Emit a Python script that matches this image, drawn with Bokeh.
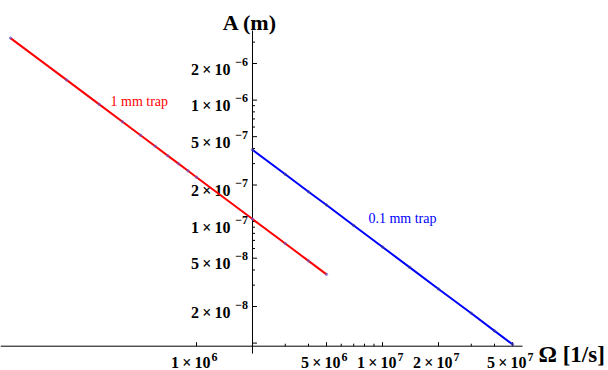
import math
from bokeh.plotting import figure
from bokeh.models import Range1d
from bokeh.core.properties import value
from bokeh.embed import file_html
from bokeh.resources import INLINE

# ---------------- data ----------------
omega_1mm = [1e5, 2e5, 3e5, 4e5, 5e5, 6e5, 7e5, 8e5, 9e5, 1e6, 2e6, 3e6, 4e6, 5e6]
amp_1mm = [3.24e-6, 1.466e-6, 9.22e-7, 6.63e-7, 5.14e-7, 4.17e-7, 3.49e-7,
           3.00e-7, 2.62e-7, 2.32e-7, 1.05e-7, 6.60e-8, 4.75e-8, 3.68e-8]

omega_01mm = [2e6, 3e6, 4e6, 5e6, 7e6, 1e7, 1.4e7, 2e7, 3e7, 4e7, 5e7]
amp_01mm = [3.9e-7, 2.45e-7, 1.76e-7, 1.37e-7, 9.29e-8, 6.18e-8, 4.20e-8,
            2.79e-8, 1.76e-8, 1.26e-8, 9.78e-9]

x_major_ticks = [1e6, 5e6, 1e7, 2e7, 5e7]
x_tick_mantissa = ["1\u2009×\u200910", "5\u2009×\u200910", "1\u2009×\u200910",
                   "2\u2009×\u200910", "5\u2009×\u200910"]
x_tick_exponent = ["6", "6", "7", "7", "7"]
x_minor_ticks = [3e6, 4e6, 6e6, 7e6, 8e6, 9e6, 3e7, 4e7]

y_major_ticks = [2e-6, 1e-6, 5e-7, 2e-7, 1e-7, 5e-8, 2e-8]
y_tick_mantissa = ["2\u2009×\u200910", "1\u2009×\u200910", "5\u2009×\u200910",
                   "2\u2009×\u200910", "1\u2009×\u200910", "5\u2009×\u200910",
                   "2\u2009×\u200910"]
y_tick_exponent = ["−6", "−6", "−7", "−7", "−7", "−8", "−8"]
y_unlabeled_ticks = [1e-8]
y_minor_ticks = [3e-6, 9e-7, 8e-7, 7e-7, 6e-7, 4e-7, 3e-7,
                 9e-8, 8e-8, 7e-8, 6e-8, 4e-8, 3e-8]

series_names = ["1 mm trap", "0.1 mm trap"]

# ---------------- layout constants ----------------
axis_x = 2e6          # vertical axis position (Omega)
axis_y = 9.43e-9      # horizontal axis position (A)
x_axis_end = 5.66e7
y_axis_top = 3.74e-6
y_axis_bottom = 8.2e-9
label_pos_1mm = (3.45e5, 9.74e-7)
label_pos_01mm = (8.4e6, 1.06e-7)

RED = "#ff0000"
BLUE = "#0000ff"
SERIF = value("Liberation Serif")

p = figure(width=608, height=370,
           x_axis_type="log", y_axis_type="log",
           x_range=Range1d(10 ** 4.9462, 10 ** 8.2150),
           y_range=Range1d(10 ** -8.2255, 10 ** -5.1802),
           toolbar_location=None, output_backend="svg",
           x_axis_location=None, y_axis_location=None,
           min_border=0, outline_line_color=None,
           background_fill_color="white", border_fill_color="white")
p.xgrid.grid_line_color = None
p.ygrid.grid_line_color = None

# axes lines
p.segment(x0=[p.x_range.start], y0=[axis_y], x1=[x_axis_end], y1=[axis_y],
          line_color="black", line_width=1)
p.segment(x0=[axis_x], y0=[y_axis_bottom], x1=[axis_x], y1=[y_axis_top],
          line_color="black", line_width=1)

# x ticks (pointing up)
p.ray(x=x_major_ticks, y=[axis_y] * len(x_major_ticks), length=4,
      length_units="screen", angle=math.pi / 2, line_color="black", line_width=1)
p.ray(x=x_minor_ticks, y=[axis_y] * len(x_minor_ticks), length=2.5,
      length_units="screen", angle=math.pi / 2, line_color="black", line_width=1)
# y ticks (pointing right)
ymaj = y_major_ticks + y_unlabeled_ticks
p.ray(x=[axis_x] * len(ymaj), y=ymaj, length=4.5, length_units="screen",
      angle=0, line_color="black", line_width=1)
p.ray(x=[axis_x] * len(y_minor_ticks), y=y_minor_ticks, length=2.5,
      length_units="screen", angle=0, line_color="black", line_width=1)

# x tick labels
p.text(x=x_major_ticks, y=[axis_y] * len(x_major_ticks), text=x_tick_mantissa,
       x_offset=14, y_offset=16.5, text_align="right", text_baseline="alphabetic",
       text_font=SERIF, text_font_size="16px", text_font_style="bold",
       text_color="black")
p.text(x=x_major_ticks, y=[axis_y] * len(x_major_ticks), text=x_tick_exponent,
       x_offset=15, y_offset=11, text_align="left", text_baseline="alphabetic",
       text_font=SERIF, text_font_size="12px", text_font_style="bold",
       text_color="black")

# y tick labels
p.text(x=[axis_x] * len(y_major_ticks), y=y_major_ticks, text=y_tick_mantissa,
       x_offset=-22, y_offset=5.5, text_align="right", text_baseline="alphabetic",
       text_font=SERIF, text_font_size="16px", text_font_style="bold",
       text_color="black")
p.text(x=[axis_x] * len(y_major_ticks), y=y_major_ticks, text=y_tick_exponent,
       x_offset=-4.5, y_offset=-2, text_align="right", text_baseline="alphabetic",
       text_font=SERIF, text_font_size="12px", text_font_style="bold",
       text_color="black")

# axis labels
p.text(x=[axis_x], y=[y_axis_top], text=["A (m)"], x_offset=-2.5, y_offset=-8.3,
       text_align="center", text_baseline="alphabetic", text_font=SERIF,
       text_font_size="22px", text_font_style="bold", text_color="black")
p.text(x=[x_axis_end], y=[axis_y], text=["Ω [1/s]"], x_offset=16, y_offset=8.6,
       text_align="left", text_baseline="alphabetic", text_font=SERIF,
       text_font_size="23px", text_font_style="bold", text_color="black")

# series
p.line(omega_1mm, amp_1mm, line_color=RED, line_width=2)
p.line(omega_01mm, amp_01mm, line_color=BLUE, line_width=2)
p.scatter(omega_1mm, amp_1mm, size=2.5, color="#6a5acd", alpha=0.55)
p.scatter(omega_01mm, amp_01mm, size=2.5, color="#4040a0", alpha=0.55)

p.text(x=[label_pos_1mm[0]], y=[label_pos_1mm[1]], text=[series_names[0]],
       text_align="left", text_baseline="alphabetic", text_font=SERIF,
       text_font_size="14px", text_color=RED)
p.text(x=[label_pos_01mm[0]], y=[label_pos_01mm[1]], text=[series_names[1]],
       text_align="left", text_baseline="alphabetic", text_font=SERIF,
       text_font_size="14px", text_color=BLUE)

open("out.html", "w").write(file_html(p, INLINE))
